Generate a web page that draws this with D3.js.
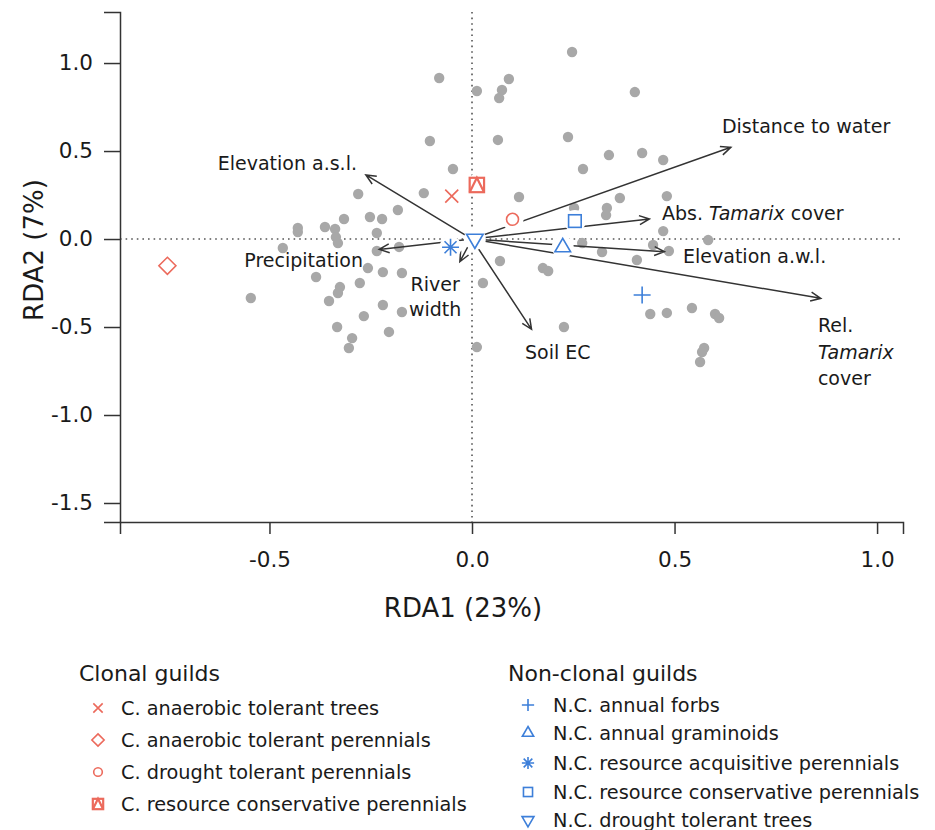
<!DOCTYPE html>
<html>
<head>
<meta charset="utf-8">
<script src="https://cdnjs.cloudflare.com/ajax/libs/d3/7.8.5/d3.min.js"></script>
<style>
  body { margin: 0; background: #fff; }
  text { font-family: "DejaVu Sans", Verdana, sans-serif; fill: #1a1a1a; }
</style>
</head>
<body>
<div id="chart"></div>
<script>
// Site scores (grey dots), RDA1 / RDA2
const siteX = [-0.081, 0.091, 0.012, 0.074, 0.067, -0.104, 0.064, -0.047, -0.281, -0.119,
  0.116, -0.183, -0.252, -0.222, -0.316, -0.430, -0.430, -0.363, -0.338, -0.336,
  -0.331, -0.235, -0.467, -0.180, -0.235, -0.257, -0.220, -0.173, -0.385, -0.277,
  -0.326, -0.331, -0.353, -0.546, -0.220, -0.173, -0.267, -0.333, -0.205, -0.296,
  -0.304, 0.012, 0.069, 0.027, 0.247, 0.402, 0.237, 0.338, 0.420, 0.472,
  0.274, 0.365, 0.481, 0.333, 0.331, 0.252, 0.472, 0.583, 0.272, 0.321,
  0.447, 0.486, 0.407, 0.175, 0.188, 0.440, 0.481, 0.543, 0.600, 0.610,
  0.227, 0.573, 0.568, 0.563];
const siteY = [0.915, 0.909, 0.841, 0.847, 0.801, 0.557, 0.563, 0.398, 0.256, 0.261,
  0.239, 0.165, 0.125, 0.114, 0.114, 0.063, 0.040, 0.068, 0.057, 0.011,
  -0.023, 0.034, -0.051, -0.045, -0.068, -0.165, -0.188, -0.193, -0.216, -0.250,
  -0.273, -0.307, -0.352, -0.335, -0.375, -0.415, -0.438, -0.500, -0.528, -0.563,
  -0.619, -0.614, -0.125, -0.250, 1.063, 0.835, 0.580, 0.477, 0.489, 0.449,
  0.398, 0.233, 0.244, 0.176, 0.136, 0.176, 0.045, -0.006, -0.023, -0.074,
  -0.034, -0.068, -0.119, -0.165, -0.182, -0.426, -0.420, -0.392, -0.426, -0.449,
  -0.500, -0.619, -0.642, -0.699];

// Environmental vectors (arrow tips)
const envNames = ["Elevation a.s.l.", "Precipitation", "River width", "Soil EC",
  "Distance to water", "Abs. Tamarix cover", "Elevation a.w.l.", "Rel. Tamarix cover"];
const envX = [-0.262, -0.229, -0.030, 0.147, 0.639, 0.438, 0.475, 0.861];
const envY = [0.364, -0.059, -0.129, -0.513, 0.521, 0.114, -0.072, -0.337];

// Label positions of the vectors (data units, first line)
const envLabelX = [-0.284, -0.269, -0.091, 0.131, 0.617, 0.469, 0.521, 0.854];
const envLabelY = [0.434, -0.119, -0.256, -0.642, 0.642, 0.149, -0.097, -0.489];
const envLabelAnchor = ["end", "end", "middle", "start", "start", "start", "start", "start"];
// each label: list of lines, each line a list of [text, style] pieces
const envLabelLines = [
  [[["Elevation a.s.l."]]],
  [[["Precipitation"]]],
  [[["River"]], [["width"]]],
  [[["Soil EC"]]],
  [[["Distance to water"]]],
  [[["Abs. "], ["Tamarix", "i"], [" cover"]]],
  [[["Elevation a.w.l."]]],
  [[["Rel."]], [["Tamarix", "i"]], [["cover"]]]
];

// Guild centroids
const guildNames = ["C. anaerobic tolerant trees", "C. anaerobic tolerant perennials",
  "C. drought tolerant perennials", "C. resource conservative perennials",
  "N.C. annual forbs", "N.C. annual graminoids", "N.C. resource acquisitive perennials",
  "N.C. resource conservative perennials", "N.C. drought tolerant trees"];
const guildGroup = ["clonal", "clonal", "clonal", "clonal",
  "nonclonal", "nonclonal", "nonclonal", "nonclonal", "nonclonal"];
const guildShape = ["cross", "diamond", "circle", "squaretri",
  "plus", "triup", "asterisk", "square", "tridown"];
const guildX = [-0.050, -0.752, 0.100, 0.012, 0.420, 0.224, -0.053, 0.254, 0.007];
const guildY = [0.244, -0.152, 0.112, 0.307, -0.318, -0.047, -0.047, 0.102, 0.000];

const xTicks = [-0.5, 0.0, 0.5, 1.0];
const yTicks = [1.0, 0.5, 0.0, -0.5, -1.0, -1.5];

const red = "#ec6a5c", blue = "#3d7fd9";

const W = 935, H = 830;
const svg = d3.select("#chart").append("svg").attr("width", W).attr("height", H);

const x = d3.scaleLinear().domain([-0.869, 1.064]).range([120, 903]);
const y = d3.scaleLinear().domain([-1.608, 1.290]).range([522, 12]);

const fmt = d => d3.format(".1f")(d).replace("\u2212", "-");

// zero lines
svg.append("line")
  .attr("x1", x(0)).attr("x2", x(0)).attr("y1", y.range()[1]).attr("y2", y.range()[0])
  .attr("stroke", "#555").attr("stroke-width", 1.6).attr("stroke-dasharray", "1.6 4");
svg.append("line")
  .attr("x1", x.range()[0]).attr("x2", x.range()[1]).attr("y1", y(0)).attr("y2", y(0))
  .attr("stroke", "#555").attr("stroke-width", 1.6).attr("stroke-dasharray", "1.6 4");

// axes
const gx = svg.append("g").attr("transform", `translate(0,${y.range()[0]})`)
  .call(d3.axisBottom(x).tickValues(xTicks).tickFormat(fmt)
    .tickSizeOuter(0).tickSize(12).tickPadding(18));
const gy = svg.append("g").attr("transform", `translate(${x.range()[0]},0)`)
  .call(d3.axisLeft(y).tickValues(yTicks).tickFormat(fmt)
    .tickSizeOuter(0).tickSize(16).tickPadding(11));
[gx, gy].forEach(g => {
  g.selectAll("path, line").attr("stroke", "#333").attr("stroke-width", 1.5);
  g.selectAll("text").attr("font-size", 21.5).attr("font-family", "DejaVu Sans, sans-serif")
    .attr("fill", "#1a1a1a");
});

svg.append("text").attr("x", 463).attr("y", 608).attr("text-anchor", "middle")
  .attr("dominant-baseline", "central").attr("font-size", 26).text("RDA1 (23%)");
svg.append("text").attr("transform", "translate(34,250) rotate(-90)")
  .attr("text-anchor", "middle").attr("dominant-baseline", "central")
  .attr("font-size", 26).text("RDA2 (7%)");

// sites
svg.append("g").selectAll("circle").data(siteX).join("circle")
  .attr("cx", d => x(d)).attr("cy", (d, i) => y(siteY[i]))
  .attr("r", 5.2).attr("fill", "#a8a8a8");

// arrows
function arrowPath(x0, y0, x1, y1) {
  const a = Math.atan2(y1 - y0, x1 - x0), L = 11, s = 0.42;
  const p1 = [x1 - L * Math.cos(a - s), y1 - L * Math.sin(a - s)];
  const p2 = [x1 - L * Math.cos(a + s), y1 - L * Math.sin(a + s)];
  return `M${x0},${y0}L${x1},${y1}M${p1[0]},${p1[1]}L${x1},${y1}L${p2[0]},${p2[1]}`;
}
svg.append("g").selectAll("path").data(envNames).join("path")
  .attr("d", (d, i) => arrowPath(x(0), y(0), x(envX[i]), y(envY[i])))
  .attr("fill", "none").attr("stroke", "#333").attr("stroke-width", 1.5);

// vector labels
const lab = svg.append("g");
envNames.forEach((n, i) => {
  const step = i === 7 ? 26.5 : 25;
  envLabelLines[i].forEach((pieces, j) => {
    const t = lab.append("text").attr("x", x(envLabelX[i]))
      .attr("y", y(envLabelY[i]) + j * step)
      .attr("text-anchor", envLabelAnchor[i]).attr("dominant-baseline", "central")
      .attr("font-size", 19);
    pieces.forEach(p => {
      t.append("tspan").text(p[0]).attr("font-style", p[1] === "i" ? "italic" : null);
    });
  });
});

// symbol drawing
function drawSymbol(g, shape, cx, cy, k, color) {
  const s = g.append("g").attr("transform", `translate(${cx},${cy})`)
    .attr("fill", "none").attr("stroke", color).attr("stroke-width", 1.6);
  if (shape === "cross") {
    const r = 6.5 * k;
    s.append("path").attr("d", `M${-r},${-r}L${r},${r}M${-r},${r}L${r},${-r}`);
  } else if (shape === "plus") {
    const r = 8.5 * k;
    s.append("path").attr("d", `M${-r},0L${r},0M0,${-r}L0,${r}`);
  } else if (shape === "asterisk") {
    const r = 8.5 * k, q = 6 * k;
    s.append("path").attr("d", `M${-r},0L${r},0M0,${-r}L0,${r}M${-q},${-q}L${q},${q}M${-q},${q}L${q},${-q}`);
  } else if (shape === "diamond") {
    const r = 8.5 * k;
    s.append("path").attr("d", `M0,${-r}L${r},0L0,${r}L${-r},0Z`);
  } else if (shape === "circle") {
    s.append("circle").attr("r", 6 * k);
  } else if (shape === "square") {
    const r = 6.3 * k;
    s.append("rect").attr("x", -r).attr("y", -r).attr("width", 2 * r).attr("height", 2 * r);
  } else if (shape === "squaretri") {
    const r = 7.2 * k;
    s.attr("stroke-width", 2.2);
    s.append("rect").attr("x", -r).attr("y", -r).attr("width", 2 * r).attr("height", 2 * r);
    s.append("path").attr("d", `M${-r},${r}L0,${-r}L${r},${r}`);
  } else if (shape === "triup") {
    const r = 9 * k;
    s.append("path").attr("d", `M0,${-r}L${r * 0.87},${r * 0.5}L${-r * 0.87},${r * 0.5}Z`);
  } else if (shape === "tridown") {
    const r = 9.5 * k;
    s.append("path").attr("d", `M0,${r}L${r * 0.87},${-r * 0.5}L${-r * 0.87},${-r * 0.5}Z`);
  }
}

// guild centroids with white knock-out
const gg = svg.append("g");
guildNames.forEach((n, i) => {
  gg.append("circle").attr("cx", x(guildX[i])).attr("cy", y(guildY[i]))
    .attr("r", 11).attr("fill", "#fff");
});
guildNames.forEach((n, i) => {
  drawSymbol(gg, guildShape[i], x(guildX[i]), y(guildY[i]), 1,
    guildGroup[i] === "clonal" ? red : blue);
});

// legends
const legendTitles = ["Clonal guilds", "Non-clonal guilds"];
const legendX = [79, 508];
const legendSymX = [98, 528];
const legendTextX = [121, 553];
const legendTop = 673;
legendTitles.forEach((t, k) => {
  svg.append("text").attr("x", legendX[k]).attr("y", legendTop)
    .attr("dominant-baseline", "central").attr("font-size", 22).text(t);
});
const rowY = { clonal: [708, 740, 772, 804], nonclonal: [705, 733, 763, 792, 820] };
const counters = { clonal: 0, nonclonal: 0 };
guildNames.forEach((n, i) => {
  const grp = guildGroup[i], k = grp === "clonal" ? 0 : 1;
  const ry = rowY[grp][counters[grp]++];
  drawSymbol(svg, guildShape[i], legendSymX[k], ry, 0.72, k === 0 ? red : blue);
  svg.append("text").attr("x", legendTextX[k]).attr("y", ry)
    .attr("dominant-baseline", "central").attr("font-size", 19.3).text(n);
});
</script>
</body>
</html>
